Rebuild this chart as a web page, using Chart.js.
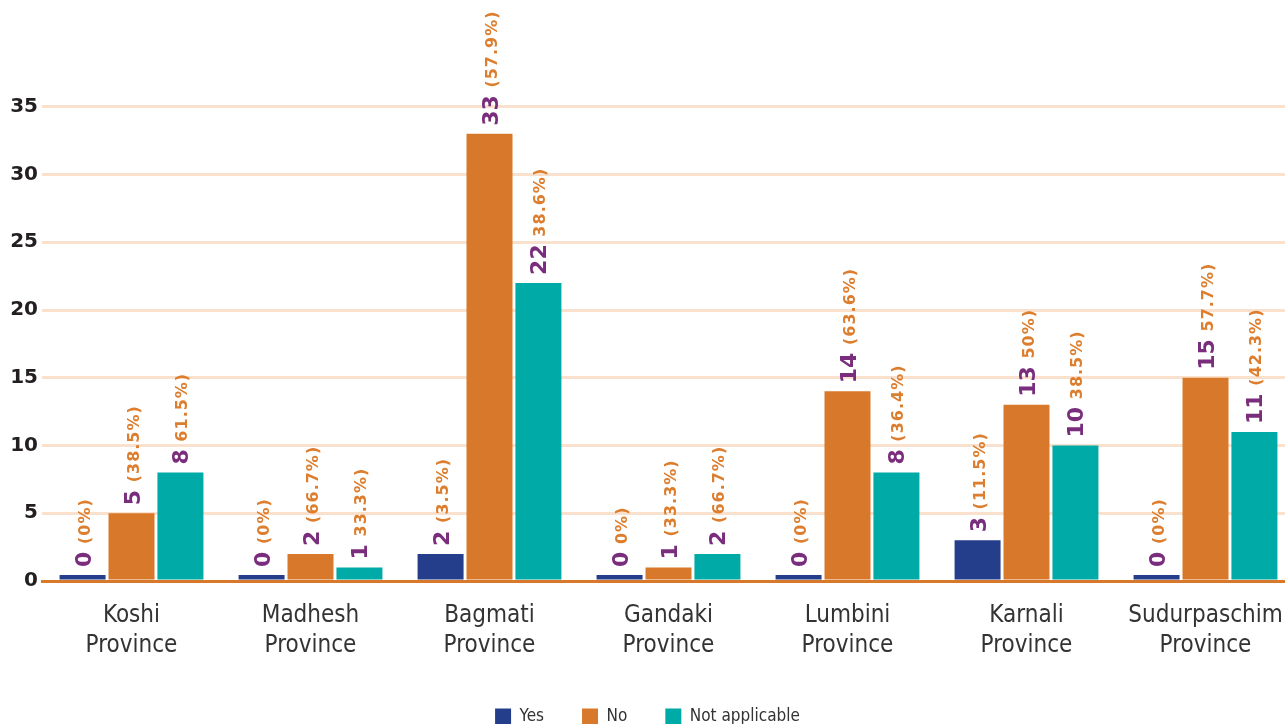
<!DOCTYPE html>
<html>
<head>
<meta charset="utf-8">
<script src="https://cdn.jsdelivr.net/npm/chart.js@4.4.1/dist/chart.umd.min.js"></script>
<style>
    html, body { margin: 0; padding: 0; background: #fff; overflow: hidden; }
    #wrap { width: 1300px; height: 735px; position: relative; }
</style>
</head>
<body>
<div id="wrap"><canvas id="graficoProvincias"></canvas></div>
<script>
const provinces = [
    ["Koshi", "Province"],
    ["Madhesh", "Province"],
    ["Bagmati", "Province"],
    ["Gandaki", "Province"],
    ["Lumbini", "Province"],
    ["Karnali", "Province"],
    ["Sudurpaschim", "Province"]
];

const yesCounts = [0, 0, 2, 0, 0, 3, 0];
const noCounts = [5, 2, 33, 1, 14, 13, 15];
const naCounts = [8, 1, 22, 2, 8, 10, 11];

// percentage text printed after each count
const yesPct = ["(0%)", "(0%)", "(3.5%)", "0%)", "(0%)", "(11.5%)", "(0%)"];
const noPct = ["(38.5%)", "(66.7%)", "(57.9%)", "(33.3%)", "(63.6%)", "50%)", "57.7%)"];
const naPct = ["61.5%)", "33.3%)", "38.6%)", "(66.7%)", "(36.4%)", "38.5%)", "(42.3%)"];

const yTicks = [0, 5, 10, 15, 20, 25, 30, 35];

const narrowFont = "'Liberation Sans Narrow', 'DejaVu Sans Condensed', sans-serif";

// vertical "count (pct)" labels above every bar
const barLabels = {
    id: "barLabels",
    afterDatasetsDraw(chart) {
        const ctx = chart.ctx;
        chart.data.datasets.forEach((ds, di) => {
            const meta = chart.getDatasetMeta(di);
            meta.data.forEach((bar, i) => {
                ctx.save();
                ctx.translate(bar.x, bar.y - 8);
                ctx.rotate(-Math.PI / 2);
                ctx.textAlign = "left";
                ctx.textBaseline = "alphabetic";
                ctx.font = "bold 22px 'DejaVu Sans'";
                ctx.fillStyle = "#7a2d7c";
                const num = String(ds.data[i]);
                ctx.fillText(num, 0, 8);
                const w = ctx.measureText(num + " ").width;
                ctx.font = "bold 16px 'DejaVu Sans'";
                ctx.letterSpacing = "1px";
                ctx.fillStyle = "#dc7e2e";
                ctx.fillText(ds.pct[i], w, 7);
                ctx.restore();
            });
        });
    }
};

new Chart(document.getElementById("graficoProvincias"), {
    type: "bar",
    data: {
        labels: provinces,
        datasets: [
            { label: "Yes", data: yesCounts, pct: yesPct, backgroundColor: "#253e8c" },
            { label: "No", data: noCounts, pct: noPct, backgroundColor: "#d8782a" },
            { label: "Not applicable", data: naCounts, pct: naPct, backgroundColor: "#00aaa6" }
        ]
    },
    options: {
        responsive: true,
        maintainAspectRatio: false,
        animation: false,
        layout: { padding: { top: 39, right: 5, left: 0, bottom: 0 } },
        datasets: {
            bar: {
                categoryPercentage: 0.82,
                barPercentage: 0.94,
                minBarLength: 6
            }
        },
        scales: {
            x: {
                grid: { display: false },
                border: { display: true, color: "#d8782a", width: 3 },
                ticks: {
                    color: "#333",
                    padding: 12,
                    maxRotation: 0,
                    autoSkip: false,
                    font: { family: narrowFont, size: 24, lineHeight: 1.25 }
                },
                afterFit(scale) { scale.height = 89; }
            },
            y: {
                min: 0,
                max: 40,
                afterBuildTicks(scale) {
                    scale.ticks = yTicks.map(v => ({ value: v }));
                },
                grid: { color: "#f9e1cd", lineWidth: 3, drawTicks: false },
                border: { display: false },
                ticks: {
                    color: "#231f20",
                    padding: 4,
                    font: { family: "'DejaVu Sans'", size: 20, weight: "bold" }
                },
                afterFit(scale) { scale.width = 42; }
            }
        },
        plugins: {
            legend: {
                position: "bottom",
                labels: {
                    boxWidth: 16,
                    boxHeight: 16,
                    padding: 38,
                    color: "#333",
                    font: { family: narrowFont, size: 17 }
                }
            },
            tooltip: { enabled: false }
        }
    },
    plugins: [barLabels]
});
</script>
</body>
</html>
